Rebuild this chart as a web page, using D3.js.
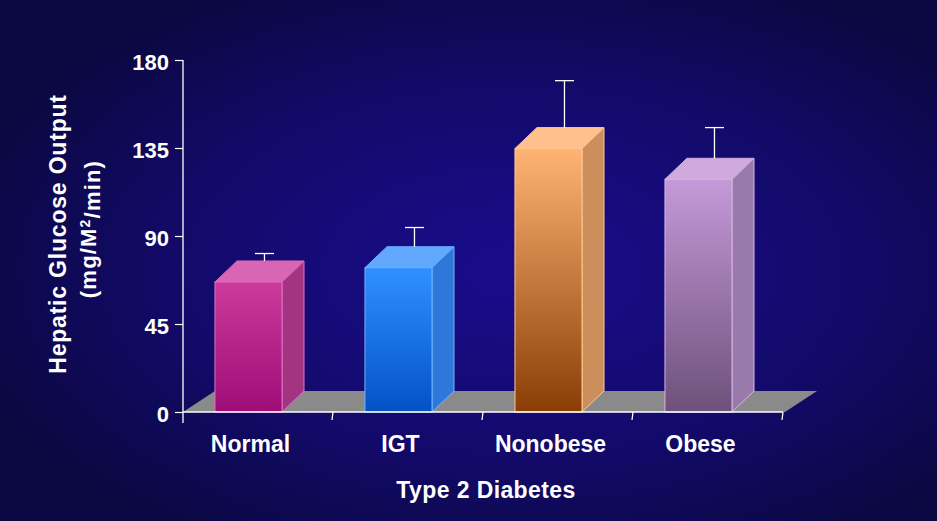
<!DOCTYPE html>
<html>
<head>
<meta charset="utf-8">
<script src="https://cdn.jsdelivr.net/npm/d3@7"></script>
<style>
  html, body { margin: 0; padding: 0; background: #0b0842; }
  svg { display: block; }
</style>
</head>
<body>
<div id="chart"></div>
<script>
const categories = ['Normal', 'IGT', 'Nonobese', 'Obese'];
const values = [66.5, 73.8, 134.7, 119];
const errors = [3.8, 9.8, 24, 15.7];
const yTicks = [0, 45, 90, 135, 180];
const xTitle = 'Type 2 Diabetes';
const yTitle = 'Hepatic Glucose Output';

// colours per bar: front top, front bottom, side, top face, edge
const barColors = [
  { front: ['#cc3a9c', '#9e0c76'], side: '#a23482', top: '#d866b4', edge: '#e070c8' },
  { front: ['#3090ff', '#0352c6'], side: '#2f78da', top: '#62a8ff', edge: '#70b4ff' },
  { front: ['#ffb474', '#8a3e06'], side: '#cc8f5c', top: '#ffc08e', edge: '#ffc890' },
  { front: ['#c49ad8', '#6e507a'], side: '#9a7aaa', top: '#d0aadc', edge: '#d8b4e8' }
];

const width = 937;
const height = 521;
const MARGIN = { top: 60, right: 154, bottom: 109, left: 183 };
const DEPTH = { dx: 22, dy: 21 };
const FLOOR = { dx: 32, dy: 21 };
const FONT = '"Liberation Sans", Arial, sans-serif';

const svg = d3.select('#chart')
  .append('svg')
  .attr('width', width)
  .attr('height', height);

const defs = svg.append('defs');

// background glow
const bg = defs.append('radialGradient')
  .attr('id', 'bg')
  .attr('cx', '55%').attr('cy', '52%').attr('r', '62%');
bg.append('stop').attr('offset', '0%').attr('stop-color', '#190c8c');
bg.append('stop').attr('offset', '55%').attr('stop-color', '#130a6c');
bg.append('stop').attr('offset', '100%').attr('stop-color', '#0a0840');

svg.append('rect')
  .attr('width', width)
  .attr('height', height)
  .attr('fill', 'url(#bg)');

barColors.forEach((c, i) => {
  const g = defs.append('linearGradient')
    .attr('id', 'front' + i)
    .attr('x1', 0).attr('y1', 0).attr('x2', 0).attr('y2', 1);
  g.append('stop').attr('offset', '0%').attr('stop-color', c.front[0]);
  g.append('stop').attr('offset', '100%').attr('stop-color', c.front[1]);
});

const x0 = MARGIN.left;
const x1 = width - MARGIN.right;
const y0 = height - MARGIN.bottom;

// set the scales
const x = d3.scaleBand().domain(categories).range([x0, x1]);
const y = d3.scaleLinear().domain([0, 180]).range([y0, MARGIN.top]);

const faceOffset = x.bandwidth() * 0.213;
const faceWidth = x.bandwidth() * 0.447;

// floor
svg.append('path')
  .attr('d', d3.line()([
    [x0, y0], [x1 + 2, y0], [x1 + 2 + FLOOR.dx, y0 - FLOOR.dy], [x0 + FLOOR.dx, y0 - FLOOR.dy]
  ]))
  .attr('fill', '#8a8a8a');

// bars
const data = categories.map((c, i) => ({ c, v: values[i], e: errors[i], col: barColors[i], i }));

const bars = svg.selectAll('g.bar')
  .data(data)
  .join('g')
  .classed('bar', true);

bars.each(function (d) {
  const g = d3.select(this);
  const left = x(d.c) + faceOffset;
  const right = left + faceWidth;
  const top = y(d.v);

  // side face
  g.append('path')
    .attr('d', d3.line()([
      [right, y0], [right, top], [right + DEPTH.dx, top - DEPTH.dy], [right + DEPTH.dx, y0 - DEPTH.dy]
    ]) + 'Z')
    .attr('fill', d.col.side)
    .attr('stroke', d.col.edge)
    .attr('stroke-width', 1);

  // top face
  g.append('path')
    .attr('d', d3.line()([
      [left, top], [right, top], [right + DEPTH.dx, top - DEPTH.dy], [left + DEPTH.dx, top - DEPTH.dy]
    ]) + 'Z')
    .attr('fill', d.col.top)
    .attr('stroke', d.col.top)
    .attr('stroke-width', 1);

  // front face
  g.append('rect')
    .attr('x', left)
    .attr('y', top)
    .attr('width', faceWidth)
    .attr('height', y0 - top)
    .attr('fill', 'url(#front' + d.i + ')')
    .attr('stroke', d.col.edge)
    .attr('stroke-width', 1);

  // error bar, drawn on the back plane
  const ex = left + faceWidth / 2 + 16;
  const eTop = y(d.v + d.e) - DEPTH.dy;
  g.append('line')
    .attr('x1', ex).attr('x2', ex)
    .attr('y1', top - DEPTH.dy).attr('y2', eTop)
    .attr('stroke', '#ffffff').attr('stroke-width', 1.3);
  g.append('line')
    .attr('x1', ex - 9.5).attr('x2', ex + 9.5)
    .attr('y1', eTop).attr('y2', eTop)
    .attr('stroke', '#ffffff').attr('stroke-width', 1.3);
});

// Y axis
const yAxis = svg.append('g')
  .attr('class', 'y axis')
  .attr('transform', 'translate(' + x0 + ',0)')
  .call(d3.axisLeft(y).tickValues(yTicks).tickSize(8).tickSizeOuter(0).tickPadding(6));

yAxis.select('.domain').remove();
yAxis.selectAll('line').attr('stroke', '#ffffff').attr('stroke-width', 1.2);
yAxis.selectAll('text')
  .attr('fill', '#ffffff')
  .attr('dy', '0.42em')
  .style('font-family', FONT)
  .style('font-weight', 'bold')
  .style('font-size', '22px');

svg.append('line')
  .attr('x1', x0).attr('x2', x0)
  .attr('y1', MARGIN.top).attr('y2', y0 + 11)
  .attr('stroke', '#ffffff').attr('stroke-width', 1.3);

// X axis baseline and ticks at band edges
svg.append('line')
  .attr('x1', x0).attr('x2', x1)
  .attr('y1', y0).attr('y2', y0)
  .attr('stroke', '#ffffff').attr('stroke-width', 1.6);

svg.selectAll('line.xtick')
  .data(categories)
  .join('line')
  .classed('xtick', true)
  .attr('x1', (d) => x(d) + x.bandwidth())
  .attr('x2', (d) => x(d) + x.bandwidth() - 1)
  .attr('y1', y0)
  .attr('y2', y0 + 8)
  .attr('stroke', '#ffffff').attr('stroke-width', 1.2);

// category labels, under the front faces
svg.selectAll('text.xlabel')
  .data(categories)
  .join('text')
  .classed('xlabel', true)
  .attr('x', (d) => x(d) + faceOffset + faceWidth / 2 + 2)
  .attr('y', 452)
  .attr('text-anchor', 'middle')
  .attr('fill', '#ffffff')
  .style('font-family', FONT)
  .style('font-weight', 'bold')
  .style('font-size', '23px')
  .text((d) => d);

// axis titles
svg.append('text')
  .attr('x', 486)
  .attr('y', 498)
  .attr('text-anchor', 'middle')
  .attr('fill', '#ffffff')
  .style('font-family', FONT)
  .style('font-weight', 'bold')
  .style('font-size', '23px')
  .style('letter-spacing', '0.4px')
  .text(xTitle);

svg.append('text')
  .attr('transform', 'translate(66,234) rotate(-90)')
  .attr('text-anchor', 'middle')
  .attr('fill', '#ffffff')
  .style('font-family', FONT)
  .style('font-weight', 'bold')
  .style('font-size', '23px')
  .style('letter-spacing', '0.8px')
  .text(yTitle);

const unit = svg.append('text')
  .attr('transform', 'translate(96,229) rotate(-90)')
  .attr('text-anchor', 'middle')
  .attr('fill', '#ffffff')
  .style('font-family', FONT)
  .style('font-weight', 'bold')
  .style('font-size', '22px')
  .style('letter-spacing', '1.2px');
unit.append('tspan').text('(mg/M');
unit.append('tspan').attr('dy', '-0.45em').style('font-size', '14px').text('2');
unit.append('tspan').attr('dy', '0.45em').text('/min)');
</script>
</body>
</html>
